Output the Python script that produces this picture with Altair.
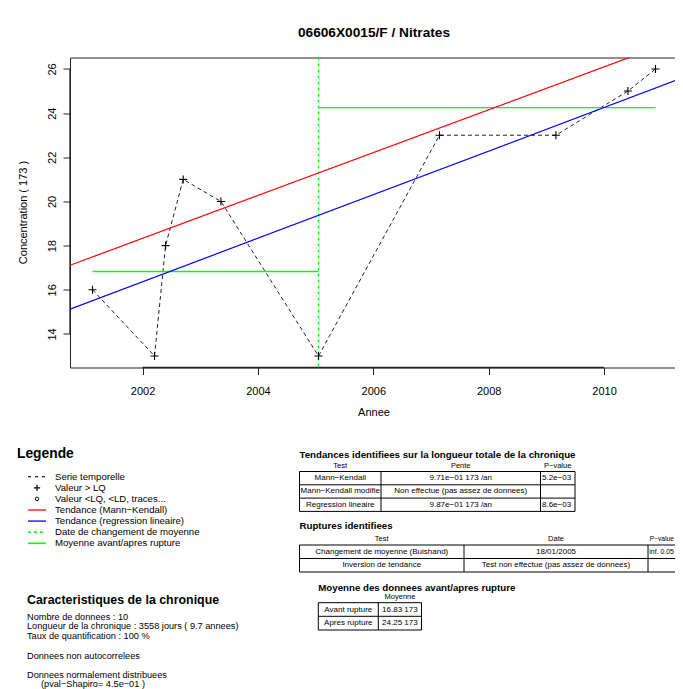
import altair as alt
import pandas as pd

# ---------------- data ----------------
years = [2001.133, 2002.208, 2002.399, 2002.705, 2003.359, 2005.050,
         2007.147, 2009.165, 2010.413, 2010.891]
values = [16, 13, 18, 21, 20, 13, 23, 23, 25, 26]

x_domain = [2000.743, 2011.281]
y_domain = [12.48, 26.52]
x_ticks = [2002, 2004, 2006, 2008, 2010]
y_ticks = [14, 16, 18, 20, 22, 24, 26]

# trend lines (end points at the edges of the x domain)
mk_x = [2000.743, 2011.281]
mk_y = [17.11, 27.34]
lr_x = [2000.743, 2011.281]
lr_y = [15.12, 25.52]

# rupture and means before / after
rupture_date = [2005.05]
seg_start = [2001.133, 2005.05]
seg_end = [2005.05, 2010.891]
seg_mean = [16.83, 24.25]

title_text = "06606X0015/F / Nitrates"
x_title = "Annee"
y_title = "Concentration  ( 173 )"

legend_labels = ["Serie temporelle", "Valeur > LQ", "Valeur <LQ, <LD, traces...",
                 "Tendance (Mann\u2212Kendall)", "Tendance (regression lineaire)",
                 "Date de changement de moyenne", "Moyenne avant/apres rupture"]

t1_title = "Tendances identifiees sur la longueur totale de la chronique"
t1_head = ["Test", "Pente", "P\u2212value"]
t1_rows = [["Mann\u2212Kendall", "9.71e\u221201 173 /an", "5.2e\u221203"],
           ["Mann\u2212Kendall modifie", "Non effectue (pas assez de donnees)", ""],
           ["Regression lineaire", "9.87e\u221201 173 /an", "8.6e\u221203"]]

t2_title = "Ruptures identifiees"
t2_head = ["Test", "Date", "P\u2212value"]
t2_rows = [["Changement de moyenne (Buishand)", "18/01/2005", "inf. 0.05"],
           ["Inversion de tendance", "Test non effectue (pas assez de donnees)", ""]]

t3_title = "Moyenne des donnees avant/apres rupture"
t3_head = ["Moyenne"]
t3_rows = [["Avant rupture", "16.83 173"], ["Apres rupture", "24.25 173"]]

carac_title = "Caracteristiques de la chronique"
carac_lines = ["Nombre de donnees : 10",
               "Longueur de la chronique : 3558 jours ( 9.7 annees)",
               "Taux de quantification : 100 %",
               "Donnees non autocorrelees",
               "Donnees normalement distribuees",
               "(pval\u2212Shapiro= 4.5e\u221201 )"]

# ---------------- layout helpers (page pixel coordinates) ----------------
FONT = "Liberation Sans"
PX, PY = 70.0, 57.5
W, H = 605, 310          # visible frame (page limits the right side)
RANGE_W = 608            # x range of the data scale
PLUS = "M-1,0L1,0M0,-1L0,1"


def one():
    return alt.Data(values=[{"k": 0}])


def text(s, x, y, size=9.6, bold=False, align="left", angle=0):
    kw = dict(text=s, align=align, baseline="middle", fontSize=size, font=FONT, color="black")
    if bold:
        kw["fontWeight"] = "bold"
    if angle:
        kw["angle"] = angle
    return alt.Chart(one()).mark_text(**kw).encode(x=alt.value(x - PX), y=alt.value(y - PY))


def seg(x1, y1, x2, y2, color="black", width=1.0, dash=None):
    kw = dict(color=color, strokeWidth=width)
    if dash:
        kw["strokeDash"] = dash
    return alt.Chart(one()).mark_rule(**kw).encode(
        x=alt.value(x1 - PX), y=alt.value(y1 - PY), x2=alt.value(x2 - PX), y2=alt.value(y2 - PY))


def sym(shape, x, y, size, width=1.0):
    return alt.Chart(one()).mark_point(shape=shape, size=size, filled=False, color="black",
                                       strokeWidth=width, opacity=1).encode(
        x=alt.value(x - PX), y=alt.value(y - PY))


# ---------------- main plot ----------------
xs = alt.Scale(domain=x_domain, range=[0, RANGE_W], nice=False, zero=False)
ys = alt.Scale(domain=y_domain, nice=False, zero=False)
xaxis = alt.Axis(values=x_ticks, format="d", title=None, grid=False, domain=False,
                 tickSize=7, tickColor="#222", tickWidth=1, labelFont=FONT, labelFontSize=11,
                 labelColor="black", labelPadding=11, labelBaseline="top",
                 labelFlush=False, labelOverlap=False)
yaxis = alt.Axis(values=y_ticks, format="d", title=None, grid=False, domain=False,
                 tickSize=7, tickColor="#222", tickWidth=1, labelFont=FONT, labelFontSize=11,
                 labelColor="black", labelPadding=8, labelAngle=270, labelAlign="center",
                 labelBaseline="alphabetic", labelFlush=False, labelOverlap=False)
X = alt.X("x:Q", scale=xs, axis=xaxis)
Y = alt.Y("y:Q", scale=ys, axis=yaxis)

series = pd.DataFrame({"x": years, "y": values})
mk = pd.DataFrame({"x": mk_x, "y": mk_y})
lr = pd.DataFrame({"x": lr_x, "y": lr_y})
means = pd.DataFrame({"x": seg_start, "x2": seg_end, "y": seg_mean})
rupt = pd.DataFrame({"x": rupture_date})
# R style axis lines running from the first to the last tick
xline = pd.DataFrame({"x": [x_ticks[0]], "x2": [x_ticks[-1]], "y": [y_domain[0]]})
yline = pd.DataFrame({"x": [x_domain[0]], "y": [y_ticks[0]], "y2": [y_ticks[-1]]})

layers = [
    alt.Chart(xline).mark_rule(color="#222", strokeWidth=1.3).encode(x=X, x2=alt.X2("x2:Q"), y=Y),
    alt.Chart(yline).mark_rule(color="#222", strokeWidth=1.3).encode(x=X, y=Y, y2=alt.Y2("y2:Q")),
    alt.Chart(series).mark_line(color="#222", strokeWidth=1, strokeDash=[4, 3]).encode(x=X, y=Y),
    alt.Chart(means).mark_rule(color="#00ff00", strokeWidth=1.4).encode(x=X, x2=alt.X2("x2:Q"), y=Y),
    alt.Chart(rupt).mark_rule(color="#00ff00", strokeWidth=1.3, strokeDash=[3, 3]).encode(x=X),
    alt.Chart(mk).mark_line(color="#ff0000", strokeWidth=1.2, clip=True).encode(x=X, y=Y),
    alt.Chart(lr).mark_line(color="#0000ff", strokeWidth=1.2, clip=True).encode(x=X, y=Y),
    alt.Chart(series).mark_point(shape=PLUS, size=64, filled=False, color="black",
                                 strokeWidth=1.1, opacity=1).encode(x=X, y=Y),
]

# titles
layers += [
    text(title_text, 374, 33, size=13.7, bold=True, align="center"),
    text(x_title, 374, 413, size=11, align="center"),
    text(y_title, 24, 212.5, size=11, align="center", angle=270),
]

# ---------------- legend ----------------
leg_y = [476.7, 487.8, 498.9, 510.0, 521.1, 532.2, 543.3]
layers.append(text("Legende", 17, 454, size=13.8, bold=True))
for lab, yy in zip(legend_labels, leg_y):
    layers.append(text(lab, 55, yy, size=9.6))
layers += [
    seg(28, leg_y[0], 46, leg_y[0], "#222", 1.2, [3, 4]),
    sym(PLUS, 37, leg_y[1], 40, 1.2),
    sym("circle", 37, leg_y[2], 12, 1.0),
    seg(28, leg_y[3], 46, leg_y[3], "#ff3333", 1.6),
    seg(28, leg_y[4], 46, leg_y[4], "#3333ff", 1.6),
    seg(28, leg_y[5], 46, leg_y[5], "#00ff00", 1.6, [3, 3]),
    seg(28, leg_y[6], 46, leg_y[6], "#00ff00", 1.6),
]

# ---------------- table 1 ----------------
c1 = [299.5, 381.0, 540.5, 575.0]
r1 = [471.5, 484.8, 498.1, 511.4]
layers.append(text(t1_title, 299.5, 455, size=9.7, bold=True))
for h, cx in zip(t1_head, [340.2, 460.7, 557.7]):
    layers.append(text(h, cx, 465.5, size=7.5, align="center"))
for yy in r1:
    layers.append(seg(c1[0], yy, c1[-1], yy))
for xx in c1:
    layers.append(seg(xx, r1[0], xx, r1[-1]))
for i, row in enumerate(t1_rows):
    yy = (r1[i] + r1[i + 1]) / 2
    layers.append(text(row[0], (c1[0] + c1[1]) / 2, yy, size=8, align="center"))
    layers.append(text(row[1], (c1[1] + c1[2]) / 2, yy, size=8, align="center"))
    if row[2]:
        layers.append(text(row[2], c1[2] + 1.5, yy, size=8))

# ---------------- table 2 ----------------
c2 = [299.5, 464.0, 648.0, 700.0]
r2 = [545.0, 558.5, 572.0]
layers.append(text(t2_title, 299.5, 526, size=9.7, bold=True))
for h, cx, al, fs in zip(t2_head, [381.7, 556.0, 649.8], ["center", "center", "left"], [7.5, 7.5, 6.6]):
    layers.append(text(h, cx, 538.5, size=fs, align=al))
for yy in r2:
    layers.append(seg(c2[0], yy, c2[-1], yy))
for xx in c2:
    layers.append(seg(xx, r2[0], xx, r2[-1]))
for i, row in enumerate(t2_rows):
    yy = (r2[i] + r2[i + 1]) / 2
    layers.append(text(row[0], (c2[0] + c2[1]) / 2, yy, size=8, align="center"))
    layers.append(text(row[1], (c2[1] + c2[2]) / 2, yy, size=8, align="center"))
    if row[2]:
        layers.append(text(row[2], c2[2] + 1.3, yy, size=6.9))

# ---------------- table 3 ----------------
c3 = [318.3, 378.3, 421.5]
r3 = [602.7, 616.3, 630.0]
layers.append(text(t3_title, 318.3, 587.5, size=9.7, bold=True))
layers.append(text(t3_head[0], 400, 597, size=7.5, align="center"))
for yy in r3:
    layers.append(seg(c3[0], yy, c3[-1], yy))
for xx in c3:
    layers.append(seg(xx, r3[0], xx, r3[-1]))
for i, row in enumerate(t3_rows):
    yy = (r3[i] + r3[i + 1]) / 2
    layers.append(text(row[0], (c3[0] + c3[1]) / 2, yy, size=8, align="center"))
    layers.append(text(row[1], (c3[1] + c3[2]) / 2, yy, size=8, align="center"))

# ---------------- characteristics ----------------
layers.append(text(carac_title, 27, 600, size=12.4, bold=True))
carac_x = [27, 27, 27, 27, 27, 41]
carac_y = [616.5, 626.0, 635.5, 656, 674.5, 684.1]
for lab, xx, yy in zip(carac_lines, carac_x, carac_y):
    layers.append(text(lab, xx, yy, size=9.2))

chart = alt.layer(*layers).properties(
    width=W, height=H,
    autosize=alt.AutoSizeParams(type="none"),
    padding={"left": 62, "top": 49.5, "right": 0, "bottom": 321.5},
).configure_view(stroke="#222", strokeWidth=1)

chart.save("out.html", embed_options={"renderer": "svg", "actions": False})
